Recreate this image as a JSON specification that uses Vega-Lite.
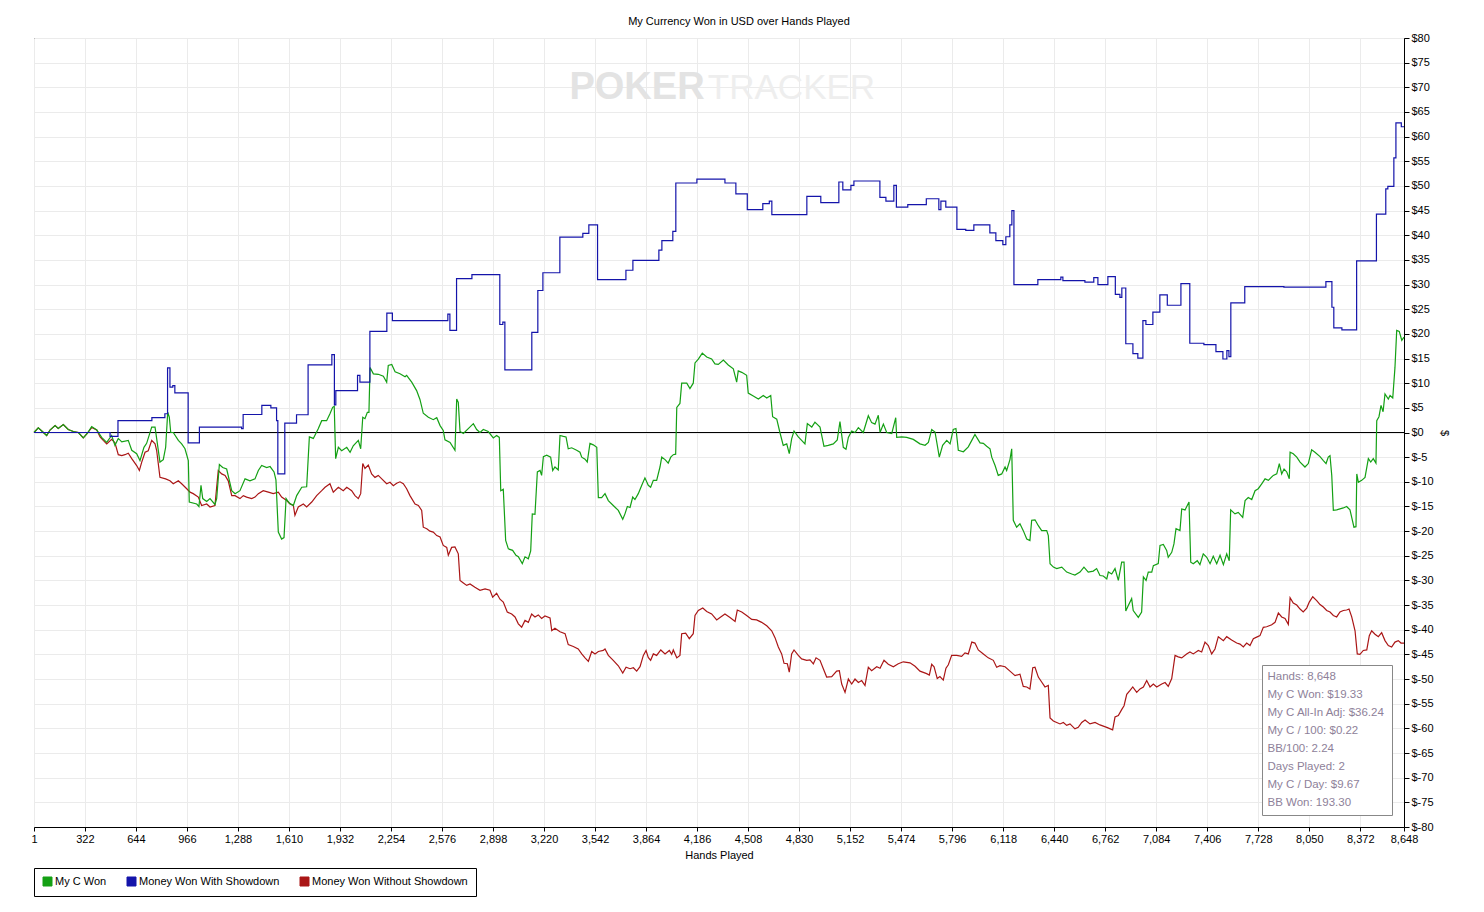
{
  "$schema": "https://vega.github.io/schema/vega-lite/v6.json",
  "width": 1370,
  "height": 789,
  "autosize": {"type": "none"},
  "padding": {"left": 34, "top": 38, "right": 80, "bottom": 85},
  "background": "white",
  "title": {"text": "My Currency Won in USD over Hands Played", "font": "Liberation Sans", "fontSize": 11, "fontWeight": "normal", "color": "black", "offset": 5, "dx": 20},
  "datasets": {
    "myc": [
      {"h":1,"v":0},{"h":28,"v":0.95},{"h":50,"v":0.3},{"h":81,"v":-0.6},{"h":102,"v":0.5},{"h":134,"v":1.4},{"h":154,"v":0.8},{"h":186,"v":1.6},{"h":217,"v":0.6},{"h":249,"v":0.2},
      {"h":281,"v":0},{"h":312,"v":-1.1},{"h":337,"v":-0.2},{"h":365,"v":1.2},{"h":397,"v":0.5},{"h":428,"v":-1.0},{"h":460,"v":-2.0},{"h":491,"v":-0.6},{"h":512,"v":-2.6},{"h":533,"v":-1.2},
      {"h":555,"v":-1.9},{"h":596,"v":-1.6},{"h":618,"v":-3.6},{"h":649,"v":-4.3},{"h":670,"v":-5.7},{"h":695,"v":-3.0},{"h":712,"v":-2.2},{"h":744,"v":1.1},{"h":765,"v":1.1},{"h":775,"v":-1.2},
      {"h":796,"v":-6.0},{"h":817,"v":-5.5},{"h":832,"v":-3.0},{"h":845,"v":4.1},{"h":855,"v":3.1},{"h":864,"v":0},{"h":880,"v":0},{"h":912,"v":-1.6},{"h":933,"v":-2.3},{"h":954,"v":-3.3},
      {"h":975,"v":-5.7},{"h":981,"v":-14.1},{"h":1028,"v":-14.5},{"h":1042,"v":-15.0},{"h":1055,"v":-10.7},{"h":1066,"v":-13.4},{"h":1091,"v":-14.0},{"h":1112,"v":-13.4},{"h":1143,"v":-14.6},{"h":1154,"v":-13.4},
      {"h":1171,"v":-6.5},{"h":1192,"v":-7.1},{"h":1217,"v":-7.4},{"h":1249,"v":-11.8},{"h":1270,"v":-12.4},{"h":1301,"v":-11.8},{"h":1333,"v":-9.4},{"h":1364,"v":-9.8},{"h":1396,"v":-9.4},{"h":1417,"v":-7.7},
      {"h":1438,"v":-6.7},{"h":1470,"v":-7.1},{"h":1491,"v":-6.9},{"h":1516,"v":-8.0},{"h":1528,"v":-9.6},{"h":1543,"v":-20.2},{"h":1564,"v":-21.6},{"h":1579,"v":-21.3},{"h":1592,"v":-13.4},{"h":1612,"v":-14.3},
      {"h":1638,"v":-14.8},{"h":1659,"v":-12.8},{"h":1691,"v":-11.1},{"h":1722,"v":-11.0},{"h":1739,"v":-0.9},{"h":1764,"v":-1.2},{"h":1795,"v":0.75},{"h":1817,"v":2.4},{"h":1848,"v":2.4},{"h":1869,"v":3.8},
      {"h":1886,"v":5.1},{"h":1896,"v":5.3},{"h":1905,"v":-5.3},{"h":1922,"v":-3.0},{"h":1943,"v":-3.7},{"h":1975,"v":-3.0},{"h":1996,"v":-4.0},{"h":2016,"v":-2.7},{"h":2048,"v":-1.6},{"h":2063,"v":-3.3},
      {"h":2076,"v":3.1},{"h":2090,"v":2.8},{"h":2105,"v":4.1},{"h":2115,"v":4.1},{"h":2122,"v":13.2},{"h":2143,"v":11.9},{"h":2174,"v":11.8},{"h":2206,"v":11.4},{"h":2227,"v":10.2},{"h":2237,"v":13.6},
      {"h":2259,"v":13.8},{"h":2280,"v":12.3},{"h":2311,"v":11.9},{"h":2343,"v":11.3},{"h":2353,"v":11.6},{"h":2385,"v":10.2},{"h":2416,"v":8.5},{"h":2437,"v":6.7},{"h":2458,"v":3.9},{"h":2490,"v":3.1},
      {"h":2521,"v":2.6},{"h":2543,"v":3.0},{"h":2564,"v":1.4},{"h":2584,"v":0.4},{"h":2595,"v":-1.5},{"h":2627,"v":-2.0},{"h":2658,"v":-3.6},{"h":2669,"v":6.8},{"h":2679,"v":6.1},{"h":2690,"v":0.2},
      {"h":2711,"v":-0.2},{"h":2742,"v":0.8},{"h":2774,"v":1.8},{"h":2795,"v":0.6},{"h":2816,"v":0},{"h":2837,"v":0.6},{"h":2868,"v":0.2},{"h":2900,"v":-1.1},{"h":2921,"v":-0.6},{"h":2938,"v":-1.0},
      {"h":2947,"v":-11.8},{"h":2963,"v":-11.5},{"h":2978,"v":-21.9},{"h":2995,"v":-23.6},{"h":3022,"v":-23.9},{"h":3043,"v":-24.9},{"h":3058,"v":-25.2},{"h":3083,"v":-26.6},{"h":3100,"v":-25.2},{"h":3121,"v":-25.6},
      {"h":3136,"v":-24.0},{"h":3146,"v":-16.5},{"h":3163,"v":-16.6},{"h":3178,"v":-8.0},{"h":3195,"v":-7.7},{"h":3205,"v":-8.7},{"h":3216,"v":-4.9},{"h":3237,"v":-4.6},{"h":3262,"v":-5.0},{"h":3275,"v":-7.7},
      {"h":3289,"v":-7.0},{"h":3310,"v":-7.6},{"h":3321,"v":-0.6},{"h":3342,"v":-0.8},{"h":3359,"v":-0.9},{"h":3373,"v":-3.3},{"h":3395,"v":-3.1},{"h":3426,"v":-3.6},{"h":3447,"v":-4.0},{"h":3458,"v":-5.0},
      {"h":3479,"v":-5.4},{"h":3493,"v":-6.0},{"h":3510,"v":-2.2},{"h":3531,"v":-2.5},{"h":3553,"v":-3.0},{"h":3563,"v":-13.2},{"h":3584,"v":-13.2},{"h":3605,"v":-12.4},{"h":3626,"v":-13.8},{"h":3657,"v":-14.8},
      {"h":3689,"v":-15.8},{"h":3717,"v":-17.6},{"h":3731,"v":-16.5},{"h":3746,"v":-15.0},{"h":3763,"v":-15.2},{"h":3780,"v":-13.1},{"h":3794,"v":-13.6},{"h":3815,"v":-12.4},{"h":3837,"v":-10.7},{"h":3857,"v":-9.2},
      {"h":3878,"v":-10.7},{"h":3893,"v":-11.1},{"h":3910,"v":-9.7},{"h":3931,"v":-9.7},{"h":3952,"v":-7.0},{"h":3963,"v":-5.0},{"h":3984,"v":-5.5},{"h":4004,"v":-6.2},{"h":4020,"v":-5.0},{"h":4036,"v":-4.5},
      {"h":4051,"v":-4.4},{"h":4058,"v":5.1},{"h":4078,"v":5.9},{"h":4089,"v":10.0},{"h":4121,"v":10.0},{"h":4141,"v":8.9},{"h":4162,"v":10.0},{"h":4173,"v":14.1},{"h":4194,"v":14.9},{"h":4219,"v":16.1},
      {"h":4247,"v":15.3},{"h":4278,"v":14.9},{"h":4299,"v":13.9},{"h":4320,"v":13.8},{"h":4352,"v":14.7},{"h":4383,"v":13.7},{"h":4415,"v":12.9},{"h":4436,"v":10.2},{"h":4446,"v":12.5},{"h":4468,"v":12.2},
      {"h":4499,"v":11.6},{"h":4509,"v":8.0},{"h":4541,"v":7.4},{"h":4573,"v":6.8},{"h":4604,"v":7.5},{"h":4626,"v":7.0},{"h":4651,"v":7.5},{"h":4663,"v":3.2},{"h":4689,"v":2.7},{"h":4709,"v":0},
      {"h":4730,"v":-2.6},{"h":4752,"v":-2.3},{"h":4768,"v":-4.3},{"h":4783,"v":-1.3},{"h":4798,"v":0.3},{"h":4825,"v":-0.9},{"h":4846,"v":-1.6},{"h":4867,"v":-2.3},{"h":4882,"v":1.8},{"h":4910,"v":1.1},
      {"h":4930,"v":2.1},{"h":4962,"v":1.1},{"h":4987,"v":-2.8},{"h":5014,"v":-2.6},{"h":5046,"v":-2.3},{"h":5071,"v":-1.5},{"h":5088,"v":2.2},{"h":5109,"v":-3.0},{"h":5126,"v":-3.4},{"h":5141,"v":-1.0},
      {"h":5162,"v":0.3},{"h":5183,"v":0},{"h":5204,"v":1.0},{"h":5235,"v":0},{"h":5267,"v":3.4},{"h":5288,"v":2.0},{"h":5309,"v":1.7},{"h":5330,"v":3.5},{"h":5341,"v":0},{"h":5362,"v":1.7},
      {"h":5383,"v":0},{"h":5415,"v":-0.2},{"h":5440,"v":3.0},{"h":5446,"v":-1.0},{"h":5478,"v":-0.9},{"h":5509,"v":-1.0},{"h":5551,"v":-1.4},{"h":5593,"v":-2.3},{"h":5625,"v":-2.6},{"h":5646,"v":-2.0},
      {"h":5667,"v":0.6},{"h":5688,"v":0.1},{"h":5715,"v":-5.0},{"h":5736,"v":-2.6},{"h":5762,"v":-1.6},{"h":5783,"v":-2.3},{"h":5803,"v":0.6},{"h":5820,"v":0.8},{"h":5835,"v":-3.6},{"h":5867,"v":-3.9},
      {"h":5898,"v":-2.9},{"h":5920,"v":-1.6},{"h":5940,"v":-0.4},{"h":5972,"v":-2.1},{"h":5993,"v":-2.2},{"h":6014,"v":-2.8},{"h":6035,"v":-3.3},{"h":6046,"v":-5.0},{"h":6067,"v":-6.7},{"h":6087,"v":-8.7},
      {"h":6109,"v":-8.4},{"h":6130,"v":-7.0},{"h":6140,"v":-7.7},{"h":6161,"v":-5.5},{"h":6172,"v":-3.3},{"h":6182,"v":-17.8},{"h":6203,"v":-19.2},{"h":6224,"v":-18.5},{"h":6245,"v":-19.9},{"h":6267,"v":-21.6},
      {"h":6287,"v":-21.9},{"h":6298,"v":-17.8},{"h":6319,"v":-17.7},{"h":6340,"v":-18.9},{"h":6361,"v":-19.9},{"h":6393,"v":-19.9},{"h":6403,"v":-20.9},{"h":6414,"v":-26.6},{"h":6435,"v":-27.3},{"h":6456,"v":-27.6},
      {"h":6488,"v":-27.3},{"h":6519,"v":-28.3},{"h":6551,"v":-28.7},{"h":6571,"v":-28.9},{"h":6603,"v":-28.3},{"h":6628,"v":-27.3},{"h":6655,"v":-28.3},{"h":6687,"v":-28.1},{"h":6708,"v":-27.6},{"h":6729,"v":-29.0},
      {"h":6750,"v":-29.1},{"h":6772,"v":-29.7},{"h":6782,"v":-28.3},{"h":6803,"v":-28.7},{"h":6824,"v":-27.6},{"h":6845,"v":-30.0},{"h":6866,"v":-26.3},{"h":6881,"v":-26.3},{"h":6892,"v":-36.2},{"h":6908,"v":-35.1},
      {"h":6929,"v":-33.7},{"h":6939,"v":-36.1},{"h":6971,"v":-37.5},{"h":6992,"v":-36.4},{"h":7003,"v":-29.3},{"h":7020,"v":-30.0},{"h":7034,"v":-28.3},{"h":7056,"v":-28.3},{"h":7066,"v":-27.0},{"h":7097,"v":-26.6},
      {"h":7108,"v":-22.9},{"h":7129,"v":-22.7},{"h":7150,"v":-23.9},{"h":7160,"v":-25.3},{"h":7182,"v":-24.3},{"h":7196,"v":-22.6},{"h":7209,"v":-19.5},{"h":7234,"v":-19.9},{"h":7245,"v":-15.5},{"h":7266,"v":-15.7},
      {"h":7291,"v":-14.1},{"h":7302,"v":-26.3},{"h":7318,"v":-26.6},{"h":7343,"v":-26.0},{"h":7360,"v":-26.8},{"h":7381,"v":-24.6},{"h":7403,"v":-25.3},{"h":7424,"v":-26.6},{"h":7444,"v":-25.1},{"h":7466,"v":-26.6},
      {"h":7487,"v":-24.9},{"h":7508,"v":-26.8},{"h":7529,"v":-24.6},{"h":7545,"v":-26.0},{"h":7554,"v":-15.7},{"h":7581,"v":-16.5},{"h":7602,"v":-16.2},{"h":7630,"v":-17.2},{"h":7645,"v":-13.8},{"h":7665,"v":-13.2},
      {"h":7687,"v":-13.6},{"h":7708,"v":-11.8},{"h":7728,"v":-11.4},{"h":7750,"v":-10.4},{"h":7771,"v":-9.4},{"h":7792,"v":-9.7},{"h":7823,"v":-8.7},{"h":7845,"v":-8.4},{"h":7861,"v":-6.3},{"h":7876,"v":-8.4},
      {"h":7891,"v":-7.4},{"h":7908,"v":-8.0},{"h":7924,"v":-9.4},{"h":7929,"v":-4.0},{"h":7949,"v":-4.3},{"h":7971,"v":-5.0},{"h":7992,"v":-6.0},{"h":8023,"v":-7.0},{"h":8044,"v":-6.3},{"h":8065,"v":-3.5},
      {"h":8086,"v":-4.0},{"h":8118,"v":-4.9},{"h":8139,"v":-5.7},{"h":8156,"v":-6.3},{"h":8170,"v":-5.0},{"h":8181,"v":-4.7},{"h":8192,"v":-8.7},{"h":8202,"v":-15.8},{"h":8223,"v":-15.7},{"h":8244,"v":-15.5},
      {"h":8265,"v":-15.3},{"h":8286,"v":-15.0},{"h":8307,"v":-15.7},{"h":8318,"v":-17.2},{"h":8332,"v":-19.2},{"h":8345,"v":-19.1},{"h":8350,"v":-8.4},{"h":8360,"v":-10.1},{"h":8381,"v":-9.7},{"h":8402,"v":-9.1},
      {"h":8423,"v":-5.3},{"h":8438,"v":-6.0},{"h":8454,"v":-5.3},{"h":8471,"v":-6.2},{"h":8476,"v":2.4},{"h":8490,"v":3.2},{"h":8503,"v":5.5},{"h":8516,"v":4.2},{"h":8528,"v":7.8},{"h":8549,"v":6.8},
      {"h":8560,"v":7.5},{"h":8577,"v":7.0},{"h":8591,"v":13.2},{"h":8602,"v":20.7},{"h":8618,"v":20.5},{"h":8634,"v":18.7},{"h":8648,"v":19.33}
    ],
    "sd": [
      {"h":1,"v":0},{"h":481,"v":-0.8},{"h":531,"v":2.4},{"h":745,"v":3.0},{"h":827,"v":3.8},{"h":844,"v":13.1},{"h":859,"v":9.2},{"h":877,"v":9.5},{"h":890,"v":8.05},{"h":974,"v":-2.1},
      {"h":1045,"v":1.1},{"h":1311,"v":0.8},{"h":1321,"v":3.65},{"h":1439,"v":5.5},{"h":1496,"v":5.0},{"h":1532,"v":2.4},{"h":1540,"v":-8.4},{"h":1584,"v":1.9},{"h":1658,"v":3.6},{"h":1731,"v":13.7},
      {"h":1881,"v":15.8},{"h":1897,"v":5.6},{"h":1906,"v":8.5},{"h":2043,"v":11.6},{"h":2058,"v":10.2},{"h":2121,"v":20.5},{"h":2228,"v":24.2},{"h":2263,"v":22.7},{"h":2613,"v":24.0},{"h":2626,"v":20.7},
      {"h":2668,"v":31.2},{"h":2765,"v":32.0},{"h":2941,"v":21.9},{"h":2960,"v":22.4},{"h":2973,"v":12.7},{"h":3143,"v":20.3},{"h":3181,"v":28.8},{"h":3213,"v":32.4},{"h":3320,"v":39.6},{"h":3465,"v":40.4},
      {"h":3503,"v":42.1},{"h":3558,"v":31.0},{"h":3737,"v":32.9},{"h":3781,"v":34.9},{"h":3945,"v":37.0},{"h":3964,"v":38.9},{"h":4033,"v":40.8},{"h":4052,"v":50.6},{"h":4185,"v":51.4},{"h":4362,"v":50.6},
      {"h":4431,"v":48.4},{"h":4503,"v":45.2},{"h":4601,"v":46.4},{"h":4642,"v":46.9},{"h":4658,"v":44.2},{"h":4879,"v":47.9},{"h":4967,"v":46.6},{"h":5081,"v":50.8},{"h":5106,"v":49.2},{"h":5157,"v":50.1},
      {"h":5176,"v":51.0},{"h":5340,"v":47.7},{"h":5378,"v":46.9},{"h":5428,"v":50.1},{"h":5444,"v":45.7},{"h":5516,"v":46.2},{"h":5633,"v":47.4},{"h":5712,"v":45.2},{"h":5725,"v":46.9},{"h":5756,"v":45.7},
      {"h":5826,"v":41.2},{"h":5882,"v":41.0},{"h":5933,"v":42.1},{"h":6034,"v":40.5},{"h":6072,"v":38.9},{"h":6116,"v":38.1},{"h":6135,"v":39.7},{"h":6160,"v":42.1},{"h":6173,"v":45.0},{"h":6186,"v":30.0},
      {"h":6337,"v":31.0},{"h":6482,"v":31.5},{"h":6495,"v":30.8},{"h":6634,"v":30.5},{"h":6690,"v":31.4},{"h":6716,"v":30.0},{"h":6779,"v":31.6},{"h":6826,"v":28.0},{"h":6855,"v":27.4},{"h":6867,"v":29.3},
      {"h":6892,"v":18.0},{"h":6937,"v":16.0},{"h":6968,"v":15.1},{"h":7000,"v":22.7},{"h":7019,"v":21.9},{"h":7063,"v":24.4},{"h":7107,"v":27.9},{"h":7154,"v":25.8},{"h":7240,"v":30.2},{"h":7296,"v":18.1},
      {"h":7385,"v":17.8},{"h":7461,"v":16.4},{"h":7505,"v":14.9},{"h":7530,"v":16.6},{"h":7543,"v":15.4},{"h":7555,"v":26.3},{"h":7643,"v":29.6},{"h":7890,"v":29.5},{"h":8155,"v":30.6},{"h":8193,"v":25.4},
      {"h":8205,"v":21.2},{"h":8256,"v":20.8},{"h":8349,"v":34.8},{"h":8474,"v":44.3},{"h":8533,"v":49.4},{"h":8546,"v":49.9},{"h":8584,"v":55.7},{"h":8597,"v":62.8},{"h":8631,"v":62.0},{"h":8648,"v":62.0}
    ],
    "nsd": [
      {"h":1,"v":0},{"h":28,"v":0.95},{"h":50,"v":0.3},{"h":81,"v":-0.6},{"h":102,"v":0.5},{"h":134,"v":1.4},{"h":154,"v":0.8},{"h":186,"v":1.6},{"h":217,"v":0.6},{"h":249,"v":0.2},
      {"h":281,"v":0},{"h":312,"v":-1.1},{"h":337,"v":-0.2},{"h":365,"v":1.0},{"h":397,"v":0.5},{"h":418,"v":-0.9},{"h":438,"v":-1.6},{"h":460,"v":-2.3},{"h":491,"v":-1.4},{"h":512,"v":-2.1},
      {"h":533,"v":-4.5},{"h":555,"v":-4.7},{"h":575,"v":-4.5},{"h":596,"v":-4.2},{"h":618,"v":-5.3},{"h":649,"v":-6.7},{"h":666,"v":-7.7},{"h":681,"v":-6.0},{"h":702,"v":-4.0},{"h":722,"v":-3.7},
      {"h":744,"v":-1.6},{"h":765,"v":-2.3},{"h":775,"v":-3.6},{"h":796,"v":-9.1},{"h":832,"v":-9.4},{"h":859,"v":-9.8},{"h":880,"v":-10.4},{"h":912,"v":-9.8},{"h":933,"v":-10.4},{"h":965,"v":-11.4},
      {"h":986,"v":-12.1},{"h":1006,"v":-12.4},{"h":1038,"v":-13.1},{"h":1059,"v":-14.8},{"h":1091,"v":-14.5},{"h":1112,"v":-15.1},{"h":1143,"v":-14.8},{"h":1164,"v":-7.7},{"h":1186,"v":-8.4},{"h":1207,"v":-8.7},
      {"h":1227,"v":-9.8},{"h":1249,"v":-12.8},{"h":1270,"v":-12.8},{"h":1301,"v":-13.4},{"h":1322,"v":-12.8},{"h":1343,"v":-13.1},{"h":1375,"v":-13.4},{"h":1396,"v":-13.1},{"h":1417,"v":-12.4},{"h":1448,"v":-11.8},
      {"h":1480,"v":-12.1},{"h":1511,"v":-12.4},{"h":1543,"v":-12.1},{"h":1564,"v":-13.1},{"h":1596,"v":-13.8},{"h":1617,"v":-14.5},{"h":1638,"v":-14.8},{"h":1648,"v":-16.8},{"h":1669,"v":-15.1},{"h":1701,"v":-14.5},
      {"h":1722,"v":-15.1},{"h":1754,"v":-14.1},{"h":1785,"v":-12.8},{"h":1817,"v":-11.8},{"h":1838,"v":-11.1},{"h":1869,"v":-10.4},{"h":1890,"v":-12.1},{"h":1922,"v":-11.1},{"h":1953,"v":-11.8},{"h":1975,"v":-11.1},
      {"h":2006,"v":-11.8},{"h":2027,"v":-12.8},{"h":2048,"v":-13.4},{"h":2063,"v":-12.4},{"h":2076,"v":-6.3},{"h":2090,"v":-7.3},{"h":2111,"v":-6.6},{"h":2132,"v":-8.4},{"h":2153,"v":-9.1},{"h":2174,"v":-8.7},
      {"h":2196,"v":-9.4},{"h":2227,"v":-10.4},{"h":2248,"v":-10.1},{"h":2269,"v":-10.8},{"h":2290,"v":-10.3},{"h":2311,"v":-10.0},{"h":2332,"v":-10.4},{"h":2353,"v":-11.4},{"h":2374,"v":-12.8},{"h":2406,"v":-14.5},
      {"h":2427,"v":-14.8},{"h":2448,"v":-15.8},{"h":2458,"v":-19.2},{"h":2480,"v":-19.5},{"h":2500,"v":-20.0},{"h":2521,"v":-20.2},{"h":2543,"v":-20.9},{"h":2564,"v":-21.2},{"h":2584,"v":-22.9},{"h":2606,"v":-23.3},
      {"h":2616,"v":-24.9},{"h":2637,"v":-23.3},{"h":2658,"v":-23.2},{"h":2679,"v":-24.6},{"h":2690,"v":-30.0},{"h":2711,"v":-30.5},{"h":2732,"v":-31.0},{"h":2753,"v":-30.7},{"h":2784,"v":-31.4},{"h":2816,"v":-32.0},
      {"h":2848,"v":-31.7},{"h":2879,"v":-32.0},{"h":2896,"v":-33.4},{"h":2921,"v":-32.6},{"h":2942,"v":-33.8},{"h":2963,"v":-34.4},{"h":2988,"v":-36.4},{"h":3016,"v":-36.8},{"h":3037,"v":-37.4},{"h":3058,"v":-38.8},
      {"h":3079,"v":-39.5},{"h":3100,"v":-38.1},{"h":3121,"v":-38.5},{"h":3142,"v":-36.8},{"h":3163,"v":-37.4},{"h":3184,"v":-37.0},{"h":3205,"v":-37.7},{"h":3226,"v":-37.2},{"h":3258,"v":-37.6},{"h":3269,"v":-40.2},
      {"h":3289,"v":-39.7},{"h":3321,"v":-40.4},{"h":3353,"v":-40.8},{"h":3373,"v":-43.0},{"h":3405,"v":-43.4},{"h":3436,"v":-43.9},{"h":3458,"v":-44.9},{"h":3479,"v":-45.7},{"h":3500,"v":-46.4},{"h":3521,"v":-44.4},
      {"h":3542,"v":-44.9},{"h":3563,"v":-44.4},{"h":3594,"v":-44.2},{"h":3605,"v":-43.9},{"h":3626,"v":-45.2},{"h":3657,"v":-46.2},{"h":3689,"v":-47.3},{"h":3717,"v":-48.8},{"h":3738,"v":-47.6},{"h":3763,"v":-47.9},
      {"h":3784,"v":-47.7},{"h":3805,"v":-48.4},{"h":3826,"v":-47.5},{"h":3847,"v":-45.2},{"h":3864,"v":-44.2},{"h":3878,"v":-45.6},{"h":3893,"v":-46.2},{"h":3910,"v":-44.9},{"h":3931,"v":-45.2},{"h":3957,"v":-44.1},
      {"h":3984,"v":-44.9},{"h":4011,"v":-44.2},{"h":4026,"v":-45.0},{"h":4036,"v":-44.1},{"h":4058,"v":-45.7},{"h":4078,"v":-45.2},{"h":4089,"v":-40.8},{"h":4114,"v":-40.7},{"h":4137,"v":-41.8},{"h":4162,"v":-40.8},
      {"h":4173,"v":-37.1},{"h":4194,"v":-36.1},{"h":4222,"v":-35.6},{"h":4247,"v":-36.3},{"h":4278,"v":-36.8},{"h":4310,"v":-38.0},{"h":4331,"v":-37.5},{"h":4362,"v":-36.8},{"h":4394,"v":-37.5},{"h":4426,"v":-38.3},
      {"h":4440,"v":-36.0},{"h":4468,"v":-36.4},{"h":4499,"v":-37.1},{"h":4531,"v":-37.9},{"h":4562,"v":-38.0},{"h":4594,"v":-38.5},{"h":4626,"v":-39.2},{"h":4657,"v":-40.2},{"h":4678,"v":-41.6},{"h":4699,"v":-43.5},
      {"h":4720,"v":-44.9},{"h":4735,"v":-46.8},{"h":4756,"v":-46.9},{"h":4768,"v":-48.6},{"h":4783,"v":-44.9},{"h":4798,"v":-44.1},{"h":4825,"v":-45.2},{"h":4846,"v":-45.9},{"h":4878,"v":-46.2},{"h":4899,"v":-46.1},
      {"h":4920,"v":-46.9},{"h":4937,"v":-45.7},{"h":4962,"v":-46.2},{"h":4983,"v":-47.9},{"h":5004,"v":-49.6},{"h":5036,"v":-49.5},{"h":5067,"v":-48.4},{"h":5084,"v":-48.3},{"h":5099,"v":-51.0},{"h":5120,"v":-52.7},
      {"h":5141,"v":-50.0},{"h":5162,"v":-51.0},{"h":5183,"v":-50.0},{"h":5204,"v":-50.7},{"h":5225,"v":-50.3},{"h":5246,"v":-51.3},{"h":5267,"v":-47.6},{"h":5288,"v":-48.3},{"h":5320,"v":-47.5},{"h":5341,"v":-47.8},
      {"h":5366,"v":-46.2},{"h":5393,"v":-47.0},{"h":5425,"v":-47.5},{"h":5456,"v":-46.9},{"h":5488,"v":-46.5},{"h":5530,"v":-46.7},{"h":5562,"v":-47.4},{"h":5593,"v":-48.4},{"h":5635,"v":-48.9},{"h":5652,"v":-49.2},
      {"h":5667,"v":-47.0},{"h":5682,"v":-47.5},{"h":5702,"v":-49.9},{"h":5719,"v":-49.5},{"h":5740,"v":-50.2},{"h":5757,"v":-47.8},{"h":5772,"v":-47.1},{"h":5793,"v":-45.2},{"h":5825,"v":-45.2},{"h":5856,"v":-45.4},
      {"h":5877,"v":-44.7},{"h":5898,"v":-44.9},{"h":5920,"v":-42.5},{"h":5940,"v":-42.7},{"h":5961,"v":-44.1},{"h":5993,"v":-44.9},{"h":6024,"v":-45.7},{"h":6056,"v":-46.2},{"h":6077,"v":-47.6},{"h":6098,"v":-47.3},
      {"h":6130,"v":-47.5},{"h":6161,"v":-48.4},{"h":6193,"v":-49.3},{"h":6224,"v":-49.0},{"h":6245,"v":-51.5},{"h":6267,"v":-51.6},{"h":6287,"v":-52.0},{"h":6305,"v":-47.7},{"h":6319,"v":-47.6},{"h":6340,"v":-49.6},
      {"h":6361,"v":-50.6},{"h":6382,"v":-51.6},{"h":6403,"v":-51.3},{"h":6414,"v":-57.9},{"h":6435,"v":-58.5},{"h":6456,"v":-58.8},{"h":6477,"v":-59.1},{"h":6498,"v":-58.8},{"h":6519,"v":-59.4},{"h":6540,"v":-59.1},
      {"h":6571,"v":-60.1},{"h":6592,"v":-59.8},{"h":6614,"v":-58.8},{"h":6635,"v":-58.3},{"h":6666,"v":-59.1},{"h":6698,"v":-58.8},{"h":6729,"v":-59.3},{"h":6772,"v":-59.8},{"h":6809,"v":-60.3},{"h":6824,"v":-57.7},
      {"h":6845,"v":-57.4},{"h":6866,"v":-56.2},{"h":6881,"v":-55.4},{"h":6898,"v":-53.1},{"h":6919,"v":-52.3},{"h":6936,"v":-51.6},{"h":6961,"v":-52.7},{"h":6982,"v":-52.0},{"h":7003,"v":-51.6},{"h":7024,"v":-50.3},
      {"h":7045,"v":-51.6},{"h":7066,"v":-51.0},{"h":7087,"v":-51.6},{"h":7119,"v":-51.0},{"h":7140,"v":-50.7},{"h":7160,"v":-51.5},{"h":7182,"v":-49.9},{"h":7203,"v":-45.2},{"h":7223,"v":-45.5},{"h":7245,"v":-45.7},
      {"h":7276,"v":-44.9},{"h":7297,"v":-44.5},{"h":7318,"v":-44.9},{"h":7350,"v":-44.2},{"h":7371,"v":-44.5},{"h":7392,"v":-42.5},{"h":7413,"v":-43.2},{"h":7434,"v":-44.9},{"h":7455,"v":-43.9},{"h":7476,"v":-41.4},
      {"h":7508,"v":-42.2},{"h":7529,"v":-41.4},{"h":7560,"v":-42.1},{"h":7592,"v":-42.7},{"h":7613,"v":-42.9},{"h":7634,"v":-43.5},{"h":7655,"v":-42.7},{"h":7676,"v":-43.2},{"h":7697,"v":-41.8},{"h":7718,"v":-41.5},
      {"h":7739,"v":-41.2},{"h":7760,"v":-39.5},{"h":7781,"v":-39.4},{"h":7813,"v":-39.0},{"h":7834,"v":-38.5},{"h":7855,"v":-36.6},{"h":7876,"v":-37.4},{"h":7897,"v":-37.7},{"h":7918,"v":-38.9},{"h":7929,"v":-33.5},
      {"h":7949,"v":-34.6},{"h":7971,"v":-35.0},{"h":7992,"v":-35.8},{"h":8012,"v":-36.4},{"h":8034,"v":-35.6},{"h":8050,"v":-34.4},{"h":8072,"v":-33.3},{"h":8097,"v":-34.1},{"h":8118,"v":-34.9},{"h":8139,"v":-35.4},
      {"h":8160,"v":-36.1},{"h":8181,"v":-36.4},{"h":8202,"v":-37.1},{"h":8223,"v":-37.4},{"h":8244,"v":-36.4},{"h":8265,"v":-36.1},{"h":8286,"v":-36.0},{"h":8301,"v":-35.8},{"h":8318,"v":-37.4},{"h":8339,"v":-40.2},
      {"h":8353,"v":-44.9},{"h":8370,"v":-45.0},{"h":8391,"v":-44.2},{"h":8413,"v":-44.1},{"h":8429,"v":-41.2},{"h":8444,"v":-40.2},{"h":8465,"v":-40.9},{"h":8486,"v":-41.4},{"h":8507,"v":-40.6},{"h":8528,"v":-42.2},
      {"h":8549,"v":-43.2},{"h":8570,"v":-43.5},{"h":8591,"v":-42.5},{"h":8612,"v":-42.2},{"h":8629,"v":-42.7},{"h":8648,"v":-42.7}
    ]
  },
  "encoding": {
    "x": {
      "field": "h",
      "type": "quantitative",
      "scale": {"domain": [1, 8648], "nice": false, "zero": false},
      "axis": {
        "values": [1, 322, 644, 966, 1288, 1610, 1932, 2254, 2576, 2898, 3220, 3542, 3864, 4186, 4508, 4830, 5152, 5474, 5796, 6118, 6440, 6762, 7084, 7406, 7728, 8050, 8372, 8648],
        "format": ",d",
        "title": "Hands Played",
        "tickSize": 4,
        "labelPadding": 2,
        "titlePadding": 5,
        "labelFlush": false,
        "labelOverlap": false
      }
    },
    "y": {
      "field": "v",
      "type": "quantitative",
      "scale": {"domain": [-80, 80], "nice": false},
      "axis": {
        "orient": "right",
        "values": [-80, -75, -70, -65, -60, -55, -50, -45, -40, -35, -30, -25, -20, -15, -10, -5, 0, 5, 10, 15, 20, 25, 30, 35, 40, 45, 50, 55, 60, 65, 70, 75, 80],
        "labelExpr": "'$' + datum.value",
        "title": "$",
        "tickSize": 5,
        "labelPadding": 2,
        "titlePadding": 5,
        "labelFlush": false,
        "labelOverlap": false
      }
    }
  },
  "layer": [
    {
      "data": {"values": [{"h": 3807, "v": 69.8, "w": "POKER"}]},
      "mark": {"type": "text", "font": "Liberation Sans", "fontSize": 38, "fontWeight": "bold", "color": "#e3e3e3"},
      "encoding": {"text": {"field": "w"}}
    },
    {
      "data": {"values": [{"h": 4782, "v": 69.8, "w": "TRACKER"}]},
      "mark": {"type": "text", "font": "Liberation Sans", "fontSize": 35, "color": "#eeeeee"},
      "encoding": {"text": {"field": "w"}}
    },
    {
      "data": {"values": [{"h": 1, "h2": 8648, "v": 0}]},
      "mark": {"type": "rule", "color": "black", "strokeWidth": 1},
      "encoding": {"x2": {"field": "h2"}}
    },
    {
      "data": {"name": "nsd"},
      "mark": {"type": "line", "strokeWidth": 1.2},
      "encoding": {
        "color": {
          "datum": "Money Won Without Showdown",
          "type": "nominal",
          "scale": {"domain": ["My C Won", "Money Won With Showdown", "Money Won Without Showdown"], "range": ["#14a014", "#1414aa", "#aa1616"]},
          "legend": {
            "orient": "bottom", "direction": "horizontal", "title": null, "offset": 8, "padding": 8,
            "strokeColor": "black", "fillColor": "white", "symbolType": "square", "symbolSize": 81,
            "symbolStrokeColor": "black", "symbolStrokeWidth": 1, "symbolOpacity": 1, "columnPadding": 18,
            "labelFont": "Liberation Sans", "labelFontSize": 11, "labelColor": "black", "labelOffset": 2, "labelLimit": 400,
            "encode": {"symbols": {"update": {"fill": {"scale": "color", "field": "value"}, "stroke": {"value": "black"}}}}
          }
        }
      }
    },
    {
      "data": {"name": "myc"},
      "mark": {"type": "line", "strokeWidth": 1.2},
      "encoding": {"color": {"datum": "My C Won", "type": "nominal"}}
    },
    {
      "data": {"name": "sd"},
      "mark": {"type": "line", "strokeWidth": 1.2, "interpolate": "step-after"},
      "encoding": {"color": {"datum": "Money Won With Showdown", "type": "nominal"}}
    },
    {
      "data": {"values": [
        {"stat": "Hands: 8,648"}, {"stat": "My C Won: $19.33"}, {"stat": "My C All-In Adj: $36.24"}, {"stat": "My C / 100: $0.22"},
        {"stat": "BB/100: 2.24"}, {"stat": "Days Played: 2"}, {"stat": "My C / Day: $9.67"}, {"stat": "BB Won: 193.30"}
      ]},
      "mark": {"type": "point", "opacity": 0},
      "encoding": {
        "shape": {
          "field": "stat",
          "type": "nominal",
          "scale": {"domain": ["Hands: 8,648", "My C Won: $19.33", "My C All-In Adj: $36.24", "My C / 100: $0.22", "BB/100: 2.24", "Days Played: 2", "My C / Day: $9.67", "BB Won: 193.30"]},
          "legend": {
            "orient": "bottom-right", "offset": 12, "title": null, "padding": 6,
            "strokeColor": "#888888", "fillColor": "white",
            "symbolSize": 0, "symbolOpacity": 0, "symbolStrokeWidth": 0, "labelOffset": -12,
            "labelFont": "Liberation Sans", "labelFontSize": 11.5, "labelColor": "#8e8199", "rowPadding": 5, "labelLimit": 300
          }
        }
      }
    }
  ],
  "config": {
    "font": "Liberation Sans",
    "view": {"stroke": "black", "strokeWidth": 1},
    "axis": {
      "grid": true,
      "gridColor": "#ebebeb",
      "gridWidth": 1,
      "domainColor": "black",
      "tickColor": "black",
      "labelFont": "Liberation Sans",
      "labelFontSize": 11,
      "labelColor": "black",
      "titleFont": "Liberation Sans",
      "titleFontSize": 11,
      "titleFontWeight": "normal",
      "titleColor": "black"
    }
  }
}
